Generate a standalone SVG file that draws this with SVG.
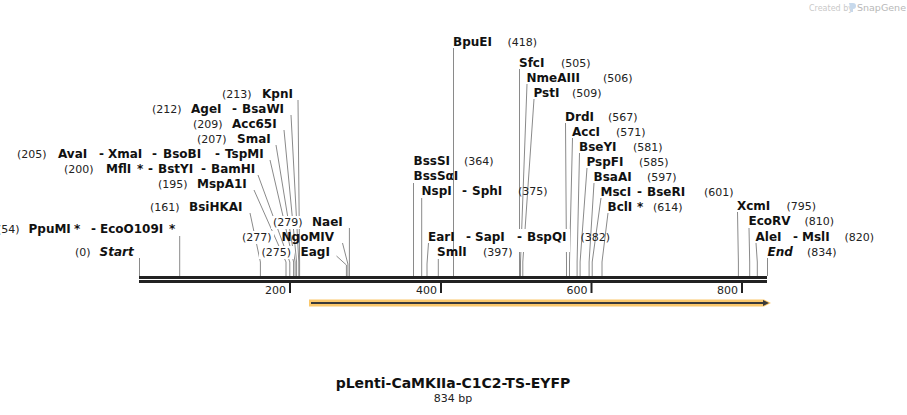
<svg xmlns="http://www.w3.org/2000/svg" width="907" height="415" viewBox="0 0 907 415">
<style>
text{font-family:"DejaVu Sans",Verdana,sans-serif;}
.n{font-size:12px;font-weight:bold;fill:#111;}
.i{font-size:12px;font-weight:bold;font-style:italic;fill:#111;}
.p{font-size:11px;fill:#222;}
.e{text-anchor:end;}
.c path{stroke:#8a8a8a;stroke-width:1;fill:none;}
.bg{fill:#fff;}
</style>
<rect width="907" height="415" fill="#fff"/>
<g id="logo">
<text x="809" y="11" style="font-size:8px;fill:#c9c9c9">Created by</text>
<path d="M849,3 h4 a2,2 0 0 1 0,6 v3 h-2 z" fill="#c7d9ec"/>
<text x="857" y="11" style="font-size:9.5px;fill:#b8b8b8">SnapGene</text>
</g>
<g id="connectors" class="c">
<path d="M298,100 L299.6,262 V276"/>
<path d="M291,115 L298.8,262 V276"/>
<path d="M284,130 L296.6,262 V276"/>
<path d="M276,145 L295.1,262 V276"/>
<path d="M270,160 L293.6,262 V276"/>
<path d="M258,175 L289.8,262 V276"/>
<path d="M254,190 L286,262 V276"/>
<path d="M250,213 L260.4,262 V276"/>
<path d="M179.7,236 V276"/>
<path d="M139.5,258 V276"/>
<path d="M349.4,228 V276"/>
<path d="M342.5,243 L347.9,264 V276"/>
<path d="M336.5,256 L346.4,265 V276"/>
<path d="M453.5,48 V276"/>
<path d="M519.5,69 V276"/>
<path d="M527,84 L520.5,262 V276"/>
<path d="M534,99 L522.8,262 V276"/>
<path d="M413.5,183 V276"/>
<path d="M421.7,198 V276"/>
<path d="M428.5,243 L427,264 V276"/>
<path d="M438.3,259 V276"/>
<path d="M565.5,123 L566.5,262 V276"/>
<path d="M572.5,138 L569.5,262 V276"/>
<path d="M579.5,153 L577.1,262 V276"/>
<path d="M587,168 L580.1,262 V276"/>
<path d="M594,183 L589.1,262 V276"/>
<path d="M601,198 L592.2,262 V276"/>
<path d="M608,213 L602,262 V276"/>
<path d="M737.5,212 L738.4,262 V276"/>
<path d="M749,228 L749.7,262 V276"/>
<path d="M756,243 L757.3,262 V276"/>
<path d="M767.5,258 V276"/>
</g>
<g id="backbone">
<rect x="139" y="276" width="628" height="3" fill="#222"/>
<rect x="139" y="280" width="628" height="3" fill="#222"/>
<rect x="289" y="283" width="2" height="10" fill="#222"/>
<rect x="440" y="283" width="2" height="10" fill="#222"/>
<rect x="590.5" y="283" width="2" height="10" fill="#222"/>
<rect x="741" y="283" width="2" height="10" fill="#222"/>
<text class="p e" x="286" y="294">200</text>
<text class="p e" x="437" y="294">400</text>
<text class="p e" x="587.5" y="294">600</text>
<text class="p e" x="738" y="294">800</text>
</g>
<g id="feature">
<polygon points="309,299.5 764,299.5 771,303 764,306.5 309,306.5" fill="#fbc86c"/>
<rect x="311" y="302" width="454" height="2" fill="#3a3a3a"/>
<polygon points="763,300 769,303 763,306" fill="#3a3a3a"/>
</g>
<g id="KpnI"><text class="p" x="222" y="98">(213)</text><text class="n" x="262" y="98">KpnI</text></g>
<g id="AgeI"><text class="p" x="152" y="113">(212)</text><text class="n" x="191" y="113">AgeI</text><text class="n" x="232" y="113">-</text><text class="n" x="242" y="113">BsaWI</text></g>
<g id="Acc65I"><text class="p" x="193" y="128">(209)</text><text class="n" x="232" y="128">Acc65I</text></g>
<g id="SmaI"><text class="p" x="197" y="143">(207)</text><text class="n" x="237" y="143">SmaI</text></g>
<g id="AvaI"><text class="p" x="17" y="158">(205)</text><text class="n" x="58" y="158">AvaI</text><text class="n" x="99" y="158">-</text><text class="n" x="108" y="158">XmaI</text><text class="n" x="152" y="158">-</text><text class="n" x="163" y="158">BsoBI</text><text class="n" x="215" y="158">-</text><text class="n" x="225" y="158">TspMI</text></g>
<g id="MflI"><text class="p" x="64" y="173">(200)</text><text class="n" x="106" y="173">MflI</text><text class="n" x="137" y="173">*</text><text class="n" x="148" y="173">-</text><text class="n" x="158" y="173">BstYI</text><text class="n" x="201" y="173">-</text><text class="n" x="211" y="173">BamHI</text></g>
<g id="MspA1I"><text class="p" x="158" y="188">(195)</text><text class="n" x="197" y="188">MspA1I</text></g>
<g id="BsiHKAI"><text class="p" x="150" y="211">(161)</text><text class="n" x="189" y="211">BsiHKAI</text></g>
<g id="PpuMI"><text class="p e" x="19.5" y="233">(54)</text><text class="n" x="28.5" y="233">PpuMI</text><text class="n" x="74" y="233">*</text><text class="n" x="91" y="233">-</text><text class="n" x="100" y="233">EcoO109I</text><text class="n" x="169" y="233">*</text></g>
<g id="Start"><text class="p" x="75" y="255.5">(0)</text><text class="i" x="99.5" y="255.5">Start</text></g>
<g id="NaeI"><rect class="bg" x="271" y="216" width="35" height="13"/><text class="p" x="273" y="226">(279)</text><text class="n" x="312" y="226">NaeI</text></g>
<g id="NgoMIV"><rect class="bg" x="240" y="231" width="34" height="13"/><text class="p" x="242" y="241">(277)</text><text class="n" x="281.5" y="241">NgoMIV</text></g>
<g id="EagI"><rect class="bg" x="259" y="246" width="35" height="13"/><text class="p" x="261.5" y="256">(275)</text><text class="n" x="300.5" y="256">EagI</text></g>
<g id="BpuEI"><text class="n" x="453" y="46">BpuEI</text><text class="p" x="507.5" y="46">(418)</text></g>
<g id="SfcI"><text class="n" x="519" y="67">SfcI</text><text class="p" x="561" y="67">(505)</text></g>
<g id="NmeAIII"><text class="n" x="526.5" y="82">NmeAIII</text><text class="p" x="603" y="82">(506)</text></g>
<g id="PstI"><text class="n" x="533.5" y="97">PstI</text><text class="p" x="572" y="97">(509)</text></g>
<g id="BssSI"><text class="n" x="413.5" y="165">BssSI</text><text class="p" x="464" y="165">(364)</text></g>
<g id="BssSaI"><text class="n" x="413.5" y="180">BssSαI</text></g>
<g id="NspI"><text class="n" x="421.5" y="195">NspI</text><text class="n" x="462" y="195">-</text><text class="n" x="472" y="195">SphI</text><text class="p" x="518" y="195">(375)</text></g>
<g id="EarI"><rect class="bg" x="514" y="229" width="56" height="23"/><text class="n" x="428" y="241">EarI</text><text class="n" x="466" y="241">-</text><text class="n" x="475" y="241">SapI</text><text class="n" x="517" y="241">-</text><text class="n" x="527" y="241">BspQI</text><text class="p" x="580.5" y="241">(382)</text></g>
<g id="SmlI"><text class="n" x="437" y="256">SmlI</text><text class="p" x="483" y="256">(397)</text></g>
<g id="DrdI"><text class="n" x="565" y="120.5">DrdI</text><text class="p" x="608" y="120.5">(567)</text></g>
<g id="AccI"><text class="n" x="572" y="135.5">AccI</text><text class="p" x="616" y="135.5">(571)</text></g>
<g id="BseYI"><text class="n" x="579" y="150.5">BseYI</text><text class="p" x="633" y="150.5">(581)</text></g>
<g id="PspFI"><text class="n" x="586.5" y="165.5">PspFI</text><text class="p" x="639" y="165.5">(585)</text></g>
<g id="BsaAI"><text class="n" x="593.5" y="180.5">BsaAI</text><text class="p" x="647" y="180.5">(597)</text></g>
<g id="MscI"><text class="n" x="600.5" y="195.5">MscI</text><text class="n" x="637" y="195.5">-</text><text class="n" x="647" y="195.5">BseRI</text><text class="p" x="704" y="195.5">(601)</text></g>
<g id="BclI"><text class="n" x="607.5" y="210.5">BclI</text><text class="n" x="637" y="210.5">*</text><text class="p" x="653" y="210.5">(614)</text></g>
<g id="XcmI"><text class="n" x="737" y="209.5">XcmI</text><text class="p" x="786.5" y="209.5">(795)</text></g>
<g id="EcoRV"><text class="n" x="748.5" y="225">EcoRV</text><text class="p" x="804.5" y="225">(810)</text></g>
<g id="AleI"><text class="n" x="755.5" y="240.5">AleI</text><text class="n" x="793" y="240.5">-</text><text class="n" x="802" y="240.5">MslI</text><text class="p" x="844.5" y="240.5">(820)</text></g>
<g id="End"><text class="i" x="767.5" y="255.5">End</text><text class="p" x="807" y="255.5">(834)</text></g>
<g id="title">
<text x="453" y="388" text-anchor="middle" style="font-size:14px;font-weight:bold;fill:#111">pLenti-CaMKIIa-C1C2-TS-EYFP</text>
<text x="453" y="402" text-anchor="middle" class="p">834 bp</text>
</g>
</svg>
